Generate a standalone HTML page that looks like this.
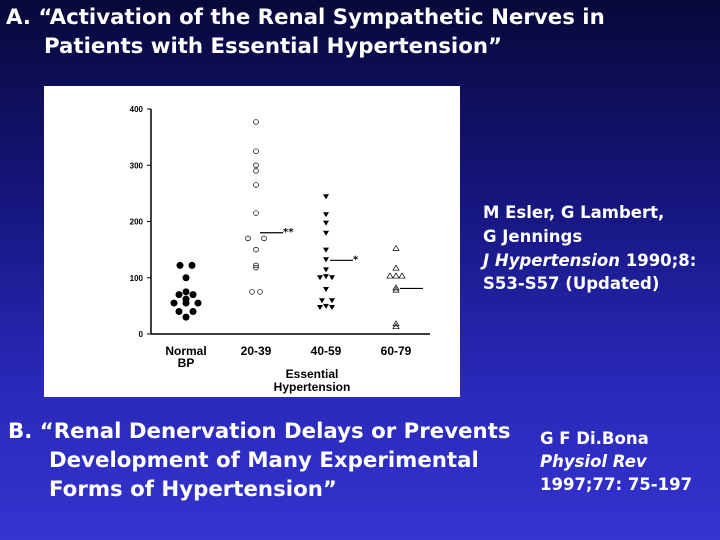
<!DOCTYPE html>
<html><head><meta charset="utf-8"><style>
body{margin:0}
#slide{position:relative;width:720px;height:540px;overflow:hidden;background:linear-gradient(180deg,#08083a 0%,#15157a 35%,#2828b8 70%,#3434d0 100%);font-family:"DejaVu Sans","Liberation Sans",sans-serif;color:#fff;font-weight:bold}
.t{position:absolute;white-space:nowrap}
.big{font-size:21.3px}
.med{font-size:16.5px}
</style></head><body>
<div id="slide">
<div class="t big" style="left:6px;top:5px">A. “Activation of the Renal Sympathetic Nerves in</div>
<div class="t big" style="left:44px;top:34px">Patients with Essential Hypertension”</div>
<svg id="chart" style="position:absolute;left:44px;top:86px" width="416" height="311"></svg>
<div class="t med" style="left:483px;top:203px">M Esler, G Lambert,</div>
<div class="t med" style="left:483px;top:227px">G Jennings</div>
<div class="t med" style="left:483px;top:251px"><i>J Hypertension</i> 1990;8:</div>
<div class="t med" style="left:483px;top:274px">S53-S57 (Updated)</div>
<div class="t big" style="left:8px;top:419px">B. “Renal Denervation Delays or Prevents</div>
<div class="t big" style="left:49px;top:448px">Development of Many Experimental</div>
<div class="t big" style="left:49px;top:477px">Forms of Hypertension”</div>
<div class="t med" style="left:540px;top:429px">G F Di.Bona</div>
<div class="t med" style="left:540px;top:452px"><i>Physiol Rev</i></div>
<div class="t med" style="left:540px;top:475px">1997;77: 75-197</div>
</div>
<script>
const categories=["Normal BP","20-39","40-59","60-79"];
const yTicks=[0,100,200,300,400];
const normalVals=[122,122,100,75,70,70,62,55,55,55,40,40,30];
const normalOff=[-6,6,0,0,-7,7,0,-12,0,12,-7,7,0];
const young=[377,325,300,290,265,215,170,170,150,122,118,75,75];
const youngOff=[0,0,0,0,0,0,-8,8,0,0,0,-4,4];
const mid=[245,213,198,180,150,133,115,103,101,101,80,60,60,50,48,48];
const midOff=[0,0,0,0,0,0,0,0,-6,6,0,-4,6,0,-6,6];
const old=[152,117,103,103,103,82,78,18,13];
const oldOff=[0,0,-6,0,6,0,0,0,0];
const means=[null,180,131,81];
const marks=[null,"**","*",""];
const svg=document.getElementById('chart');const NS="http://www.w3.org/2000/svg";
const X0=107,X1=386,Y0=248,Y1=23;
const y=v=>Y0-(v/400)*(Y0-Y1);
const xc=i=>142+i*70;
function mk(t,a,name,inter){const e=document.createElementNS(NS,t);for(const k in a)e.setAttribute(k,a[k]);


svg.appendChild(e);return e;}
mk('rect',{x:0,y:0,width:416,height:311,fill:'#fff'},'chart-background','false');
mk('line',{x1:X0,y1:Y1,x2:X0,y2:Y0,stroke:'#000','stroke-width':1.5},'y-axis','false');
mk('line',{x1:X0,y1:Y0,x2:X1,y2:Y0,stroke:'#000','stroke-width':1.5},'x-axis','false');
yTicks.forEach(v=>{mk('line',{x1:X0-4,y1:y(v),x2:X0,y2:y(v),stroke:'#000'},'y-tick','false');
const t=mk('text',{x:X0-8,y:y(v)+3,'font-size':8,'font-weight':'bold','text-anchor':'end',fill:'#000','font-family':'Liberation Sans'},'y-tick-label','false');t.textContent=v;});
categories.forEach((c,i)=>{const parts=c==="Normal BP"?["Normal","BP"]:[c];
parts.forEach((p,j)=>{const t=mk('text',{x:xc(i),y:269+j*12,'font-size':12,'font-weight':'bold','text-anchor':'middle',fill:'#000','font-family':'Liberation Sans'},'x-category-label','false');t.textContent=p;});});
[["Essential",292],["Hypertension",305]].forEach(([s,yy])=>{const t=mk('text',{x:(xc(1)+xc(3))/2-14,y:yy,'font-size':12,'font-weight':'bold','text-anchor':'middle',fill:'#000','font-family':'Liberation Sans'},'x-group-label','false');t.textContent=s;});
normalVals.forEach((v,i)=>mk('circle',{cx:xc(0)+normalOff[i],cy:y(v),r:3.5,fill:'#000'},'point-normal','false'));
young.forEach((v,i)=>mk('circle',{cx:xc(1)+youngOff[i],cy:y(v),r:2.4,fill:'none',stroke:'#000','stroke-width':0.7},'point-20-39','false'));
mid.forEach((v,i)=>{const cx=xc(2)+midOff[i],cy=y(v);mk('polygon',{points:`${cx-3},${cy-2} ${cx+3},${cy-2} ${cx},${cy+3}`,fill:'#000'},'point-40-59','false');});
old.forEach((v,i)=>{const cx=xc(3)+oldOff[i],cy=y(v);mk('polygon',{points:`${cx-3},${cy+2} ${cx+3},${cy+2} ${cx},${cy-3}`,fill:'none',stroke:'#000','stroke-width':0.7},'point-60-79','false');});
means.forEach((m,i)=>{if(m==null)return;mk('line',{x1:xc(i)+4,y1:y(m),x2:xc(i)+27,y2:y(m),stroke:'#000','stroke-width':1.2},'mean-line','false');
if(marks[i]){const t=mk('text',{x:xc(i)+27,y:y(m)+2,'font-size':10,fill:'#000'},'significance-mark','false');t.textContent=marks[i];}});
</script>
</body></html>
